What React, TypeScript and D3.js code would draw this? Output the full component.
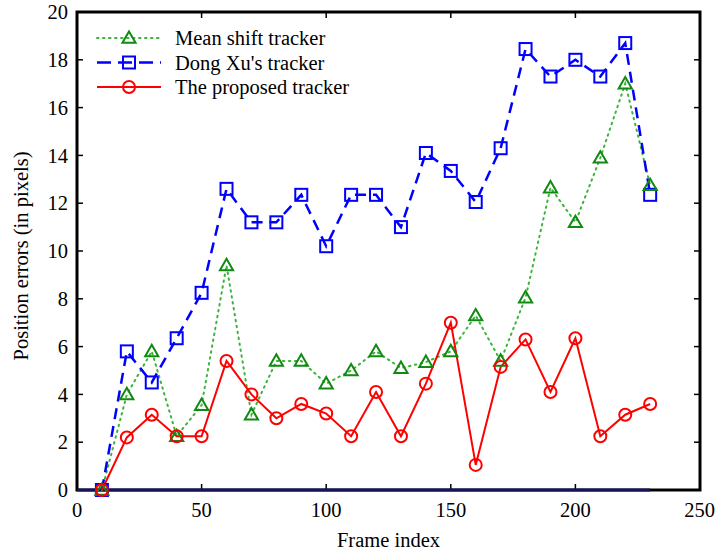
import React, { useEffect, useRef } from "react";
import * as d3 from "d3";

const frames = [10, 20, 30, 40, 50, 60, 70, 80, 90, 100, 110, 120, 130, 140, 150, 160, 170, 180, 190, 200, 210, 220, 230];
const meanShift = [0, 4.0, 5.8, 2.25, 3.55, 9.4, 3.15, 5.4, 5.4, 4.45, 5.0, 5.8, 5.1, 5.35, 5.8, 7.3, 5.4, 8.05, 12.65, 11.2, 13.9, 17.0, 12.75];
const dongXu = [0, 5.8, 4.5, 6.35, 8.25, 12.6, 11.2, 11.2, 12.35, 10.2, 12.35, 12.35, 11.0, 14.1, 13.35, 12.05, 14.3, 18.45, 17.3, 18.0, 17.3, 18.7, 12.35];
const proposed = [0, 2.2, 3.15, 2.25, 2.25, 5.4, 4.0, 3.0, 3.6, 3.2, 2.25, 4.1, 2.25, 4.45, 7.0, 1.05, 5.15, 6.3, 4.1, 6.35, 2.25, 3.15, 3.6];
const xTicks = [0, 50, 100, 150, 200, 250];
const yTicks = [0, 2, 4, 6, 8, 10, 12, 14, 16, 18, 20];
const seriesNames = ["Mean shift tracker", "Dong Xu's tracker", "The proposed tracker"];

const App = () => {
  const ref = useRef<SVGSVGElement>(null);

  useEffect(() => {
    document.body.style.margin = "0";
    const width = 716;
    const height = 550;
    const margin = { top: 12, right: 16, bottom: 60, left: 77 };
    const innerW = width - margin.left - margin.right;
    const innerH = height - margin.top - margin.bottom;
    const font = "'Liberation Serif', 'Times New Roman', serif";
    const fs = 20.5;

    const svg = d3.select(ref.current);
    svg.selectAll("*").remove();

    const x = d3.scaleLinear().domain([0, 250]).range([0, innerW]);
    const y = d3.scaleLinear().domain([0, 20]).range([innerH, 0]);

    const g = svg.append("g").attr("transform", `translate(${margin.left},${margin.top})`);

    const label = (sel: any, tx: number, ty: number, anchor: string, txt: string, dy = "0") =>
      sel.append("text").attr("x", tx).attr("y", ty).attr("text-anchor", anchor).attr("dy", dy)
        .attr("font-family", font).attr("font-size", fs).text(txt);

    // ticks inside on all four sides
    const tickLen = 6;
    yTicks.forEach((t) => {
      g.append("line").attr("x1", 0).attr("x2", tickLen).attr("y1", y(t)).attr("y2", y(t)).attr("stroke", "#000").attr("stroke-width", 1.5);
      g.append("line").attr("x1", innerW).attr("x2", innerW - tickLen).attr("y1", y(t)).attr("y2", y(t)).attr("stroke", "#000").attr("stroke-width", 1.5);
      label(g, -9, y(t), "end", String(t), "0.35em");
    });
    xTicks.forEach((t, i) => {
      g.append("line").attr("x1", x(t)).attr("x2", x(t)).attr("y1", innerH).attr("y2", innerH - tickLen).attr("stroke", "#000").attr("stroke-width", 1.5);
      g.append("line").attr("x1", x(t)).attr("x2", x(t)).attr("y1", 0).attr("y2", tickLen).attr("stroke", "#000").attr("stroke-width", 1.5);
      if (i === xTicks.length - 1) label(g, x(t) + 15, innerH + 27, "end", String(t));
      else label(g, x(t), innerH + 27, "middle", String(t));
    });

    // frame
    g.append("rect").attr("x", 0).attr("y", 0).attr("width", innerW).attr("height", innerH)
      .attr("fill", "none").attr("stroke", "#000").attr("stroke-width", 3);

    // baseline series along zero
    g.append("line").attr("x1", x(0)).attr("x2", x(230)).attr("y1", y(0)).attr("y2", y(0))
      .attr("stroke", "#14145a").attr("stroke-width", 3);

    const line = d3.line<number>().x((_, i) => x(frames[i])).y((d) => y(d));

    // mean shift
    g.append("path").datum(meanShift).attr("d", line).attr("fill", "none")
      .attr("stroke", "#3cb43c").attr("stroke-width", 2).attr("stroke-dasharray", "1.5,4.5").attr("stroke-linecap", "round");
    // dong xu
    g.append("path").datum(dongXu).attr("d", line).attr("fill", "none")
      .attr("stroke", "#0000ff").attr("stroke-width", 2.5).attr("stroke-dasharray", "11,7");
    // proposed
    g.append("path").datum(proposed).attr("d", line).attr("fill", "none")
      .attr("stroke", "#ff0000").attr("stroke-width", 2);

    const tri = d3.symbol().type(d3.symbolTriangle).size(75);

    const drawTri = (sel: any, cx: number, cy: number) =>
      sel.append("path").attr("d", tri()).attr("transform", `translate(${cx},${cy + 1})`)
        .attr("fill", "none").attr("stroke", "#108a10").attr("stroke-width", 2);
    const drawSq = (sel: any, cx: number, cy: number) =>
      sel.append("rect").attr("x", cx - 6).attr("y", cy - 6).attr("width", 12).attr("height", 12)
        .attr("fill", "none").attr("stroke", "#0000ff").attr("stroke-width", 2);
    const drawCirc = (sel: any, cx: number, cy: number) =>
      sel.append("circle").attr("cx", cx).attr("cy", cy).attr("r", 6)
        .attr("fill", "none").attr("stroke", "#ff0000").attr("stroke-width", 2);

    dongXu.forEach((d, i) => drawSq(g, x(frames[i]), y(d)));
    meanShift.forEach((d, i) => drawTri(g, x(frames[i]), y(d)));
    proposed.forEach((d, i) => drawCirc(g, x(frames[i]), y(d)));

    // legend
    const lg = g.append("g").attr("transform", "translate(18,26)");
    const rowH = 24.5;
    const styles = [
      { stroke: "#3cb43c", dash: "1.5,4.5", w: 2, marker: drawTri },
      { stroke: "#0000ff", dash: "14,7", w: 2.5, marker: drawSq },
      { stroke: "#ff0000", dash: null, w: 2, marker: drawCirc },
    ];
    seriesNames.forEach((name, i) => {
      const s = styles[i];
      const yy = i * rowH;
      const l = lg.append("line").attr("x1", 2).attr("x2", 66).attr("y1", yy).attr("y2", yy)
        .attr("stroke", s.stroke).attr("stroke-width", s.w).attr("stroke-linecap", i === 0 ? "round" : "butt");
      if (s.dash) l.attr("stroke-dasharray", s.dash);
      s.marker(lg, 34, yy);
      label(lg, 80, yy, "start", name, "0.35em");
    });

    // axis titles
    label(svg, margin.left + innerW / 2, 547, "middle", "Frame index");
    svg.append("text").attr("transform", `translate(28,256) rotate(-90)`)
      .attr("text-anchor", "middle").attr("font-family", font).attr("font-size", fs)
      .text("Position errors (in pixels)");
  }, []);

  return (
    <div>
      <svg ref={ref} width={716} height={550}></svg>
    </div>
  );
};

export default App;
